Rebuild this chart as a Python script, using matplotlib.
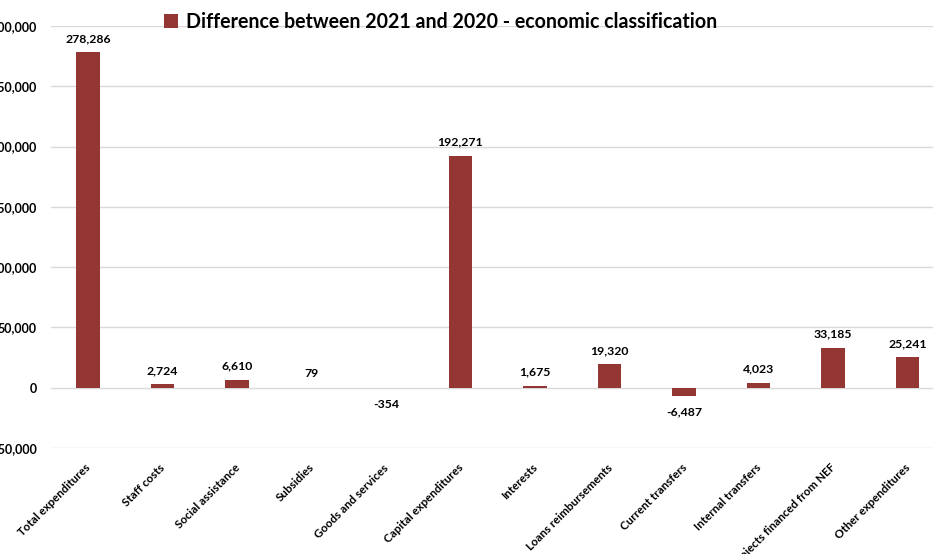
import matplotlib
matplotlib.use("Agg")
import matplotlib.pyplot as plt
from matplotlib.ticker import FuncFormatter
import matplotlib.transforms as mtransforms

categories = ["Total expenditures", "Staff costs", "Social assistance", "Subsidies",
              "Goods and services", "Capital expenditures", "Interests",
              "Loans reimbursements", "Current transfers", "Internal transfers",
              "Projects financed from NEF", "Other expenditures"]
values = [278286, 2724, 6610, 79, -354, 192271, 1675, 19320, -6487, 4023, 33185, 25241]
series_name = "Difference between 2021 and 2020 - economic classification"
yticks = [-50000, 0, 50000, 100000, 150000, 200000, 250000, 300000]

plt.rcParams['font.family'] = ['Lato', 'DejaVu Sans']
bar_color = "#943634"

fig = plt.figure(figsize=(9.33, 5.54), dpi=100)
ax = fig.add_axes([50.7/933, 106/554, 894/933, 422/554])

x = list(range(len(categories)))
bars = ax.bar(x, values, width=0.32, color=bar_color, label=series_name, zorder=3)

ax.set_ylim(-50000, 300000)
ax.set_xlim(-0.5, len(categories) - 0.5)
ax.set_yticks(yticks)
ax.yaxis.set_major_formatter(FuncFormatter(lambda v, p: f"{int(v):,}"))
ax.grid(axis='y', color='#d9d9d9', linewidth=1, zorder=0)
for s in ax.spines.values():
    s.set_visible(False)
ax.tick_params(axis='y', length=0, pad=10, labelsize=9)
ax.tick_params(axis='x', length=0, pad=10, labelsize=8.3)
for lab in ax.get_yticklabels():
    lab.set_fontweight('bold')

ax.set_xticks(x)
ax.set_xticklabels(categories, rotation=45, ha='right', rotation_mode='anchor',
                   fontweight='bold', va='center')
offset = mtransforms.ScaledTranslation(1/100, -4/100, fig.dpi_scale_trans)
for lab in ax.get_xticklabels():
    lab.set_transform(lab.get_transform() + offset)

for xi, v in zip(x, values):
    if v >= 0:
        ax.annotate(f"{v:,}", (xi, v), xytext=(0, 6), textcoords='offset points',
                    ha='center', va='bottom', fontsize=8.8, fontweight='bold')
    else:
        ax.annotate(f"{v:,}", (xi, v), xytext=(0, -8), textcoords='offset points',
                    ha='center', va='top', fontsize=8.8, fontweight='bold')

leg = fig.legend(handles=[bars], labels=[series_name], loc='center left',
                 bbox_to_anchor=(164/933, 1 - 22/554), frameon=False,
                 prop={'weight': 'bold', 'size': 14.15}, handlelength=0.7,
                 handleheight=0.7, handletextpad=0.4, borderpad=0, borderaxespad=0)

fig.savefig("out.png", dpi=100)
